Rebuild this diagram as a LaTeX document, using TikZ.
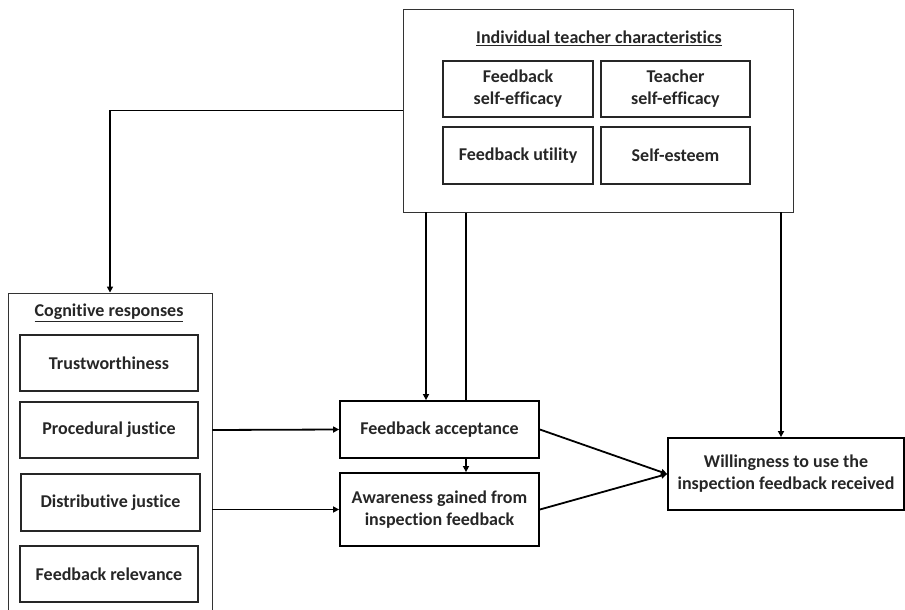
\documentclass[tikz,border=0pt]{standalone}
\usepackage{fontspec}
\setmainfont{Carlito}[Ligatures=NoCommon]
\usetikzlibrary{arrows.meta,backgrounds}
\begin{document}
\begin{tikzpicture}[x=1pt,y=-1pt,
  box/.style={draw=black!85,line width=1.1pt,rectangle,inner sep=0pt,align=center,text=black!85,font=\bfseries\fontsize{18}{22}\selectfont},
  outerbox/.style={draw=black!80,line width=0.9pt,rectangle,inner sep=0pt,fill=white},
  mainbox/.style={draw=black,line width=1.8pt,rectangle,inner sep=0pt,align=center,fill=white,text=black!85,font=\bfseries\fontsize{18}{22}\selectfont},
  ttl/.style={inner sep=0pt,text=black!85,font=\bfseries\fontsize{18}{22}\selectfont},
  arr/.style={line width=1.8pt,-{Triangle[length=6pt,width=6pt]}}]
\useasboundingbox (0,0) rectangle (905,610);
% top box
\node[outerbox,minimum width=390pt,minimum height=203pt] (tc) at (598,110.5) {};
\node[ttl] (tct) at (599,38) {\underline{Individual teacher characteristics}};
\node[box,minimum width=150pt,minimum height=56pt] (fse) at (518,89) {Feedback\\self-efficacy};
\node[box,minimum width=149pt,minimum height=56pt] (tse) at (675.5,89) {Teacher\\self-efficacy};
\node[box,minimum width=150pt,minimum height=57pt] (fu) at (518,155.5) {Feedback utility};
\node[box,minimum width=149pt,minimum height=57pt] (se) at (675.5,155.5) {Self-esteem};
% cognitive box
\node[outerbox,minimum width=204pt,minimum height=322pt] (cog) at (110,454) {};
\node[ttl] (cogt) at (109,313) {\underline{Cognitive responses}};
\node[box,minimum width=178pt,minimum height=56pt] (tw) at (109,363) {Trustworthiness};
\node[box,minimum width=178pt,minimum height=56pt] (pj) at (109,430) {Procedural justice};
\node[box,minimum width=179pt,minimum height=57pt] (dj) at (110.5,502.5) {Distributive justice};
\node[box,minimum width=178pt,minimum height=56pt] (fr) at (109,574) {Feedback relevance};
% outcome boxes
\node[mainbox,minimum width=199pt,minimum height=57pt] (fa) at (439.5,429.5) {Feedback acceptance};
\node[mainbox,minimum width=199pt,minimum height=73pt] (aw) at (439.5,509.5) {Awareness gained from\\inspection feedback};
\node[mainbox,minimum width=236pt,minimum height=72pt] (wi) at (786,474) {Willingness to use the\\inspection feedback received};
% connectors
\draw[arr] (tc.west) -| (cog.north);
\draw[arr] (tc.south -| 426,0) -- (fa.north -| 426,0);
\begin{scope}[on background layer]
\draw[arr] (tc.south -| 466,0) -- (aw.north -| 466,0);
\end{scope}
\draw[arr] (tc.south -| 781,0) -- (wi.north -| 781,0);
\draw[arr] (cog.east |- pj.east) -- (fa.west);
\draw[arr] (cog.east |- aw.west) -- (aw.west);
\draw[arr] (fa.east) -- (wi.west);
\draw[arr] (aw.east) -- (wi.west);
\end{tikzpicture}
\end{document}
